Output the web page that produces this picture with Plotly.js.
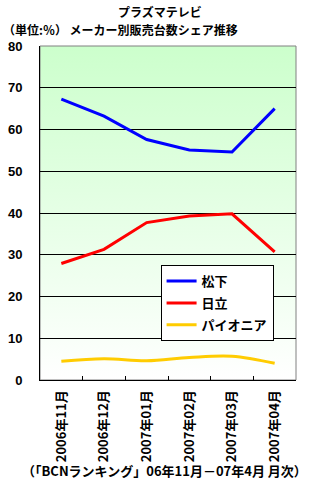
<!DOCTYPE html>
<html><head><meta charset="utf-8">
<script src="https://cdn.plot.ly/plotly-3.0.1.min.js"></script>
<style>html,body{margin:0;padding:0;background:#fff}#c{width:311px;height:487px}</style>
</head><body><div id="c"></div>
<script>
const months = ["2006年11月","2006年12月","2007年01月","2007年02月","2007年03月","2007年04月"];
const matsushita = [67.3, 63.2, 57.6, 55.1, 54.6, 65.0];
const hitachi = [27.9, 31.3, 37.7, 39.3, 39.8, 30.7];
const pioneer = [4.5, 5.1, 4.6, 5.4, 5.7, 4.0];
const names = ["松下","日立","パイオニア"];
const colors = ["#0000ff","#ff0000","#ffcc00"];
const yTicks = [0,10,20,30,40,50,60,70,80];

const F = '"Noto Sans CJK JP", "DejaVu Sans", sans-serif';
const series = [matsushita, hitachi, pioneer];
const traces = series.map((v,i)=>({
  type:'scatter', mode:'lines', x:months, y:v, name:names[i],
  legendgroup:'g'+i,
  line:{color:colors[i], width:3, shape: i===2 ? 'spline' : 'linear'}
}));

const svg = '<svg xmlns="http://www.w3.org/2000/svg" width="10" height="100" preserveAspectRatio="none"><defs><linearGradient id="g" x1="0" y1="0" x2="0" y2="1"><stop offset="0" stop-color="#ccffcc"/><stop offset="1" stop-color="#ffffff"/></linearGradient></defs><rect width="10" height="100" fill="url(#g)"/></svg>';
const img = 'data:image/svg+xml;base64,' + btoa(svg);

const layout = {
  width:311, height:487,
  margin:{l:40, r:15, t:46, b:107},
  paper_bgcolor:'#ffffff', plot_bgcolor:'rgba(0,0,0,0)',
  font:{family:F, size:12, color:'#000'},
  showlegend:true,
  legend:{x:0.471, y:0.344, xanchor:'left', yanchor:'top', bgcolor:'#ffffff',
    bordercolor:'#000', borderwidth:1, font:{family:F, size:13, color:'#000', weight:'bold'},
    itemwidth:30, tracegroupgap:2},
  xaxis:{type:'category', range:[-0.5,5.5], showline:true, linecolor:'#000', linewidth:1,
    showgrid:false, ticks:'inside', ticklen:4, tickcolor:'#000', tickson:'boundaries',
    tickangle:-90, tickfont:{family:F, size:13, weight:'bold'}, ticklabelstandoff:4, fixedrange:true},
  yaxis:{range:[0,80], tickvals:yTicks, showline:true, linecolor:'#000', linewidth:1,
    showgrid:true, gridcolor:'#000', gridwidth:1, ticks:'', zeroline:false,
    tickfont:{family:'"Liberation Sans", Arial, sans-serif', size:13, weight:'bold'},
    ticklabelstandoff:14, fixedrange:true},
  images:[{source:img, xref:'paper', yref:'paper', x:0, y:1, sizex:1, sizey:1,
    xanchor:'left', yanchor:'top', sizing:'stretch', layer:'below'}],
  shapes:[{type:'rect', xref:'paper', yref:'paper', x0:0, x1:1, y0:0, y1:1,
    line:{color:'#808080', width:1}, layer:'below'}],
  annotations:[
    {text:'プラズマテレビ', xref:'paper', yref:'paper', x:0.47, y:1, yshift:35,
     showarrow:false, xanchor:'center', yanchor:'middle', font:{family:F, size:12, weight:'bold'}},
    {text:'（単位:％） メーカー別販売台数シェア推移', xref:'paper', yref:'paper', x:0, xshift:-39, y:1, yshift:17,
     showarrow:false, xanchor:'left', yanchor:'middle', font:{family:F, size:12, weight:'bold'}},
    {text:'（「BCNランキング」06年11月－07年4月 月次）', xref:'paper', yref:'paper', x:0, xshift:-20, y:0, yshift:-90,
     showarrow:false, xanchor:'left', yanchor:'middle', font:{family:F, size:13, weight:'bold'}}
  ]
};
Plotly.newPlot('c', traces, layout, {displayModeBar:false, staticPlot:true});
</script></body></html>
